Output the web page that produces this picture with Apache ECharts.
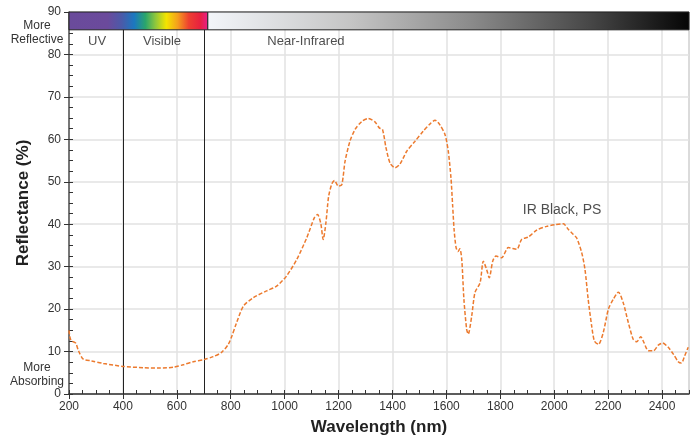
<!DOCTYPE html>
<html>
<head>
<meta charset="utf-8">
<script src="https://cdn.jsdelivr.net/npm/echarts@6/dist/echarts.min.js"></script>
<style>
  html, body { margin: 0; padding: 0; background: #fff; }
  #chart { width: 696px; height: 441px; }
</style>
</head>
<body>
<div id="chart"></div>
<script>
// wavelength (nm) and reflectance (%)
const wavelengths = [
  200, 205, 212, 225, 235, 253, 284, 327, 400, 476, 538, 587, 624, 661, 701, 735, 766, 791,
  805, 820, 847, 884, 933, 970, 1007, 1045, 1082, 1110, 1122, 1134, 1143, 1153, 1163, 1175,
  1185, 1199, 1212, 1224, 1242, 1261, 1286, 1310, 1335, 1351, 1363, 1376, 1391, 1409, 1428,
  1453, 1483, 1514, 1539, 1558, 1576, 1595, 1607, 1617, 1623, 1629, 1636, 1643, 1650, 1657,
  1665, 1675, 1681, 1694, 1706, 1725, 1737, 1749, 1759, 1772, 1784, 1805, 1830, 1861, 1879,
  1904, 1935, 1972, 2003, 2034, 2052, 2071, 2083, 2102, 2114, 2126, 2139, 2149, 2164, 2182,
  2201, 2219, 2238, 2256, 2275, 2293, 2306, 2321, 2333, 2349, 2368, 2386, 2402, 2423, 2442,
  2460, 2472, 2484, 2497
];
const reflectance = [
  15.0, 13.0, 12.4, 12.0, 10.2, 8.2, 7.8, 7.2, 6.5, 6.2, 6.1, 6.3, 6.9, 7.6, 8.1, 8.8, 9.8, 11.7,
  13.8, 16.5, 20.7, 22.7, 24.3, 25.4, 27.8, 31.7, 36.8, 41.5, 42.3, 40.2, 36.4, 40.3, 46.5, 49.5,
  50.3, 49.0, 49.3, 54.8, 59.5, 62.3, 64.2, 64.9, 64.1, 62.7, 62.3, 58.0, 54.4, 53.3, 54.2,
  57.2, 59.5, 61.9, 63.6, 64.5, 63.4, 61.1, 57.2, 50.9, 44.6, 38.4, 34.5, 33.6, 34.2, 31.7,
  22.3, 15.3, 14.1, 18.4, 23.9, 26.2, 31.3, 29.4, 27.4, 31.3, 32.5, 32.1, 34.5, 34.1, 36.4,
  37.0, 38.6, 39.5, 39.9, 40.1, 38.8, 37.6, 36.8, 33.3, 29.4, 22.3, 16.0, 12.5, 11.7, 14.5,
  20.0, 22.3, 24.0, 21.5, 16.8, 12.9, 12.3, 13.5, 12.1, 10.2, 10.2, 11.5, 12.0, 11.0, 9.4,
  7.6, 7.3, 9.0, 11.0
];
const bandLabels = [
  ['UV', 304, 83.1],
  ['Visible', 545, 83.1],
  ['Near-Infrared', 1079, 83.1]
];
const seriesLabel = ['IR Black, PS', 2029, 43.2];
const regionEdges = [400, 700];

const FONT = '"Liberation Sans", Arial, sans-serif';
const chart = echarts.init(document.getElementById('chart'), null, { renderer: 'canvas' });

const curve = wavelengths.map((w, i) => [w, reflectance[i]]);
const textPts = bandLabels.map(d => ({ value: [d[1], d[2]], name: d[0] }));
textPts.push({
  value: [seriesLabel[1], seriesLabel[2]], name: seriesLabel[0],
  label: { fontSize: 14 }
});

const option = {
  animation: false,
  backgroundColor: '#fff',
  grid: { left: 69, right: 7, top: 12, bottom: 46, show: true, borderColor: '#8c8c8c', borderWidth: 1 },
  xAxis: [
    {
      type: 'value', min: 200, max: 2500, interval: 200,
      name: 'Wavelength (nm)', nameLocation: 'middle', nameGap: 25,
      nameTextStyle: { fontFamily: FONT, fontSize: 17, fontWeight: 'bold', color: '#222' },
      axisLine: { lineStyle: { color: '#333', width: 1.5 } },
      axisTick: { inside: false, length: 5, lineStyle: { color: '#333' } },
      axisLabel: {
        fontFamily: FONT, fontSize: 12, color: '#333', margin: 7, showMaxLabel: false,
        formatter: v => String(v)
      },
      splitLine: { lineStyle: { color: '#e2e2e2', width: 1.5 } }
    },
    {
      type: 'value', min: 200, max: 2500, interval: 50, position: 'bottom',
      axisLine: { show: false },
      axisTick: { inside: true, length: 4, lineStyle: { color: '#333' } },
      axisLabel: { show: false },
      splitLine: { show: false }
    }
  ],
  yAxis: [
    {
      type: 'value', min: 0, max: 90, interval: 10,
      name: 'Reflectance (%)', nameLocation: 'middle', nameGap: 37,
      nameTextStyle: { fontFamily: FONT, fontSize: 17, fontWeight: 'bold', color: '#222' },
      axisLine: { show: true, lineStyle: { color: '#555', width: 1.5 } },
      axisTick: { show: true, inside: false, length: 5, lineStyle: { color: '#333' } },
      axisLabel: { fontFamily: FONT, fontSize: 12, color: '#333', margin: 8 },
      splitLine: { lineStyle: { color: '#e2e2e2', width: 1.5 } }
    },
    {
      type: 'value', min: 0, max: 90, interval: 2.5, position: 'left',
      axisLine: { show: false },
      axisTick: { show: true, inside: true, length: 4, lineStyle: { color: '#333' } },
      axisLabel: { show: false },
      splitLine: { show: false }
    }
  ],
  graphic: [
    { type: 'text', x: 37, y: 26, style: { text: 'More', font: '12px ' + FONT, fill: '#333', align: 'center', verticalAlign: 'middle' } },
    { type: 'text', x: 37, y: 40, style: { text: 'Reflective', font: '12px ' + FONT, fill: '#333', align: 'center', verticalAlign: 'middle' } },
    { type: 'text', x: 37, y: 368, style: { text: 'More', font: '12px ' + FONT, fill: '#333', align: 'center', verticalAlign: 'middle' } },
    { type: 'text', x: 37, y: 382, style: { text: 'Absorbing', font: '12px ' + FONT, fill: '#333', align: 'center', verticalAlign: 'middle' } }
  ],
  series: [
    {
      type: 'line',
      data: curve,
      smooth: 0.25,
      symbol: 'none',
      lineStyle: { color: '#ec7a2e', width: 1.5, type: [4, 2] },
      z: 5,
      markArea: {
        silent: true,
        z: 4,
        data: [
          [
            {
              xAxis: 200, yAxis: 85.8,
              itemStyle: {
                borderColor: '#222', borderWidth: 1,
                color: {
                  type: 'linear', x: 0, y: 0, x2: 1, y2: 0,
                  colorStops: [
                    { offset: 0, color: '#6a4b9b' },
                    { offset: 0.28, color: '#6b4a9c' },
                    { offset: 0.38, color: '#4b5aa9' },
                    { offset: 0.47, color: '#1b78c0' },
                    { offset: 0.55, color: '#2aa56c' },
                    { offset: 0.62, color: '#8cc63e' },
                    { offset: 0.70, color: '#f4e400' },
                    { offset: 0.78, color: '#f5a01d' },
                    { offset: 0.86, color: '#ee4030' },
                    { offset: 0.94, color: '#e8213f' },
                    { offset: 1, color: '#e81e8c' }
                  ]
                }
              }
            },
            { xAxis: 715, yAxis: 90 }
          ],
          [
            {
              xAxis: 715, yAxis: 85.8,
              itemStyle: {
                borderColor: '#222', borderWidth: 1,
                color: {
                  type: 'linear', x: 0, y: 0, x2: 1, y2: 0,
                  colorStops: [
                    { offset: 0, color: '#f3f6fa' },
                    { offset: 0.3, color: '#c4c4c4' },
                    { offset: 0.55, color: '#8a8a8a' },
                    { offset: 0.8, color: '#454545' },
                    { offset: 1, color: '#050505' }
                  ]
                }
              }
            },
            { xAxis: 2500, yAxis: 90 }
          ]
        ]
      },
      markLine: {
        silent: true,
        symbol: 'none',
        label: { show: false },
        lineStyle: { color: '#222', width: 1, type: 'solid' },
        data: regionEdges.map(x => [{ coord: [x, 0] }, { coord: [x, 85.8] }])
      }
    },
    {
      type: 'scatter',
      data: textPts,
      symbolSize: 0,
      silent: true,
      z: 6,
      label: {
        show: true, position: 'inside',
        formatter: p => p.name,
        fontFamily: FONT, color: '#222',
        fontSize: 13
      }
    }
  ]
};

chart.setOption(option);
</script>
</body>
</html>
